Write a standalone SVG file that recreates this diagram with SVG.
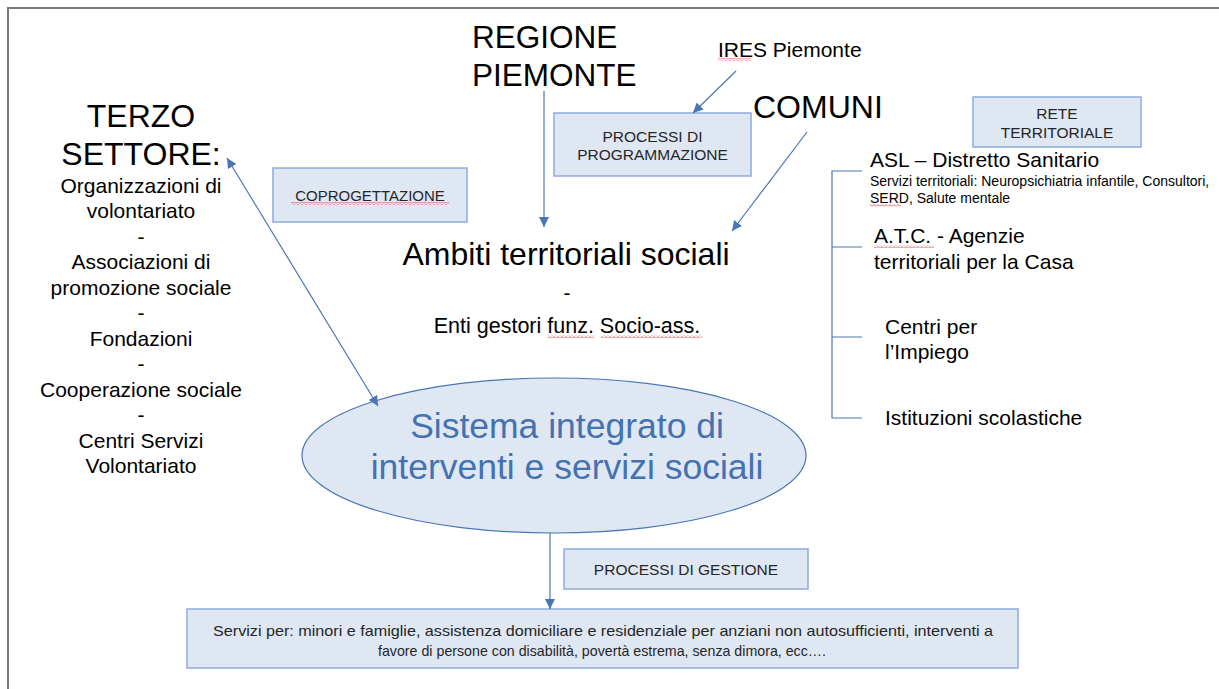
<svg xmlns="http://www.w3.org/2000/svg" width="1219" height="689" viewBox="0 0 1219 689">
<style>
text{font-family:"Liberation Sans",Arial,sans-serif;fill:#000}
.box{fill:#dfe7f3;stroke:#8faadc;stroke-width:1.5}
.bt{font-size:15.5px;fill:#262626;text-anchor:middle}
.big{font-size:32px}
.mid{font-size:21px}
.c{text-anchor:middle}
.con{stroke:#4a76b4;stroke-width:1.2;fill:none}
.brk{stroke:#4a76b4;stroke-width:1.2;fill:none}
.sq{fill:url(#sq)}
</style>
<defs>
<marker id="ah" viewBox="0 0 10 10" refX="10" refY="5" markerWidth="10" markerHeight="10" markerUnits="userSpaceOnUse" orient="auto-start-reverse">
<path d="M0,0 L10,5 L0,10 z" fill="#4a76b4"/>
</marker>
<pattern id="sq" width="4" height="3" patternUnits="userSpaceOnUse">
<path d="M0,2.5 L2,0.5 L4,2.5" stroke="#e03030" stroke-width="0.8" fill="none"/>
</pattern>
</defs>
<rect width="1219" height="689" fill="#fff"/>
<path d="M8,689 V8 H1219" stroke="#7a7a7a" stroke-width="2" fill="none"/>

<g id="terzo-settore">
<text class="big c" x="141" y="127">TERZO</text>
<text class="big c" x="141" y="165">SETTORE:</text>
<text class="mid c" x="141" y="192.5">Organizzazioni di</text>
<text class="mid c" x="141" y="218">volontariato</text>
<text class="mid c" x="141" y="243.5">-</text>
<text class="mid c" x="141" y="269">Associazioni di</text>
<text class="mid c" x="141" y="294.5">promozione sociale</text>
<text class="mid c" x="141" y="320">-</text>
<text class="mid c" x="141" y="345.5">Fondazioni</text>
<text class="mid c" x="141" y="371">-</text>
<text class="mid c" x="141" y="396.5">Cooperazione sociale</text>
<text class="mid c" x="141" y="422">-</text>
<text class="mid c" x="141" y="447.5">Centri Servizi</text>
<text class="mid c" x="141" y="473">Volontariato</text>
</g>

<g id="regione-piemonte">
<text class="big" x="472" y="48" style="font-size:31.5px">REGIONE</text>
<text class="big" x="472" y="86" style="font-size:31.5px">PIEMONTE</text>
</g>

<g id="ires">
<text x="718" y="57" style="font-size:21px">IRES Piemonte</text>
<rect class="sq" x="718" y="58" width="33" height="3"/>
</g>

<g id="comuni">
<text class="big" x="753" y="118">COMUNI</text>
</g>

<g id="processi-programmazione">
<rect class="box" x="554" y="113" width="197" height="63"/>
<text class="bt" x="652.5" y="142">PROCESSI DI</text>
<text class="bt" x="652.5" y="160">PROGRAMMAZIONE</text>
</g>

<g id="coprogettazione">
<rect class="box" x="273" y="168" width="194" height="54"/>
<text class="bt" x="370" y="201" style="font-size:15px">COPROGETTAZIONE</text>
<rect class="sq" x="291" y="202" width="158" height="3"/>
</g>

<g id="rete-territoriale">
<rect class="box" x="973" y="97" width="168" height="50"/>
<text class="bt" x="1057" y="119">RETE</text>
<text class="bt" x="1057" y="138">TERRITORIALE</text>
</g>

<g id="ambiti">
<text class="big c" x="566" y="265">Ambiti territoriali sociali</text>
<text class="mid c" x="567" y="300">-</text>
<text class="c" x="567" y="333" style="font-size:21.5px">Enti gestori funz. Socio-ass.</text>
<rect class="sq" x="547" y="335" width="47" height="3"/>
<rect class="sq" x="601" y="335" width="101" height="3"/>
</g>

<g id="sistema">
<ellipse cx="554" cy="455.5" rx="252" ry="77.5" fill="#dfe7f3" stroke="#4a76b4" stroke-width="1.2"/>
<text x="567" y="438" text-anchor="middle" style="font-size:35.5px;fill:#4472b0">Sistema integrato di</text>
<text x="567" y="479" text-anchor="middle" style="font-size:35.5px;fill:#4472b0">interventi e servizi sociali</text>
</g>

<g id="processi-gestione">
<rect class="box" x="564" y="549" width="244" height="40"/>
<text class="bt" x="686" y="575" style="font-size:15.5px">PROCESSI DI GESTIONE</text>
</g>

<g id="servizi">
<rect class="box" x="187" y="609" width="831" height="59"/>
<text class="bt" x="603" y="636" style="font-size:15px" textLength="780" lengthAdjust="spacingAndGlyphs">Servizi per: minori e famiglie, assistenza domiciliare e residenziale per anziani non autosufficienti, interventi a</text>
<text class="bt" x="602" y="656" style="font-size:15px" textLength="448" lengthAdjust="spacingAndGlyphs">favore di persone con disabilità, povertà estrema, senza dimora, ecc….</text>
</g>

<g id="rete-list">
<text x="870" y="167" style="font-size:21px">ASL – Distretto Sanitario</text>
<text x="870" y="186" style="font-size:14px">Servizi territoriali: Neuropsichiatria infantile, Consultori,</text>
<text x="870" y="203" style="font-size:14px">SERD, Salute mentale</text>
<rect class="sq" x="870" y="204" width="31" height="3"/>
<text x="874" y="243" class="mid">A.T.C. - Agenzie</text>
<rect class="sq" x="874" y="245" width="60" height="3"/>
<text x="874" y="269" class="mid">territoriali per la Casa</text>
<text x="885" y="334" class="mid">Centri per</text>
<text x="885" y="359" class="mid">l’Impiego</text>
<text x="885" y="425" class="mid">Istituzioni scolastiche</text>
</g>

<g id="connectors">
<path class="con" d="M544,91 V227" marker-end="url(#ah)"/>
<path class="con" d="M736,71 L693,113" marker-end="url(#ah)"/>
<path class="con" d="M807,132 L732,231" marker-end="url(#ah)"/>
<path class="con" d="M227,158 L378,406" marker-start="url(#ah)" marker-end="url(#ah)"/>
<path class="con" d="M550,533 V609" marker-end="url(#ah)"/>
<path class="brk" d="M862,171 H832 V418 H862 M832,247 H862 M832,337 H862"/>
</g>
</svg>
